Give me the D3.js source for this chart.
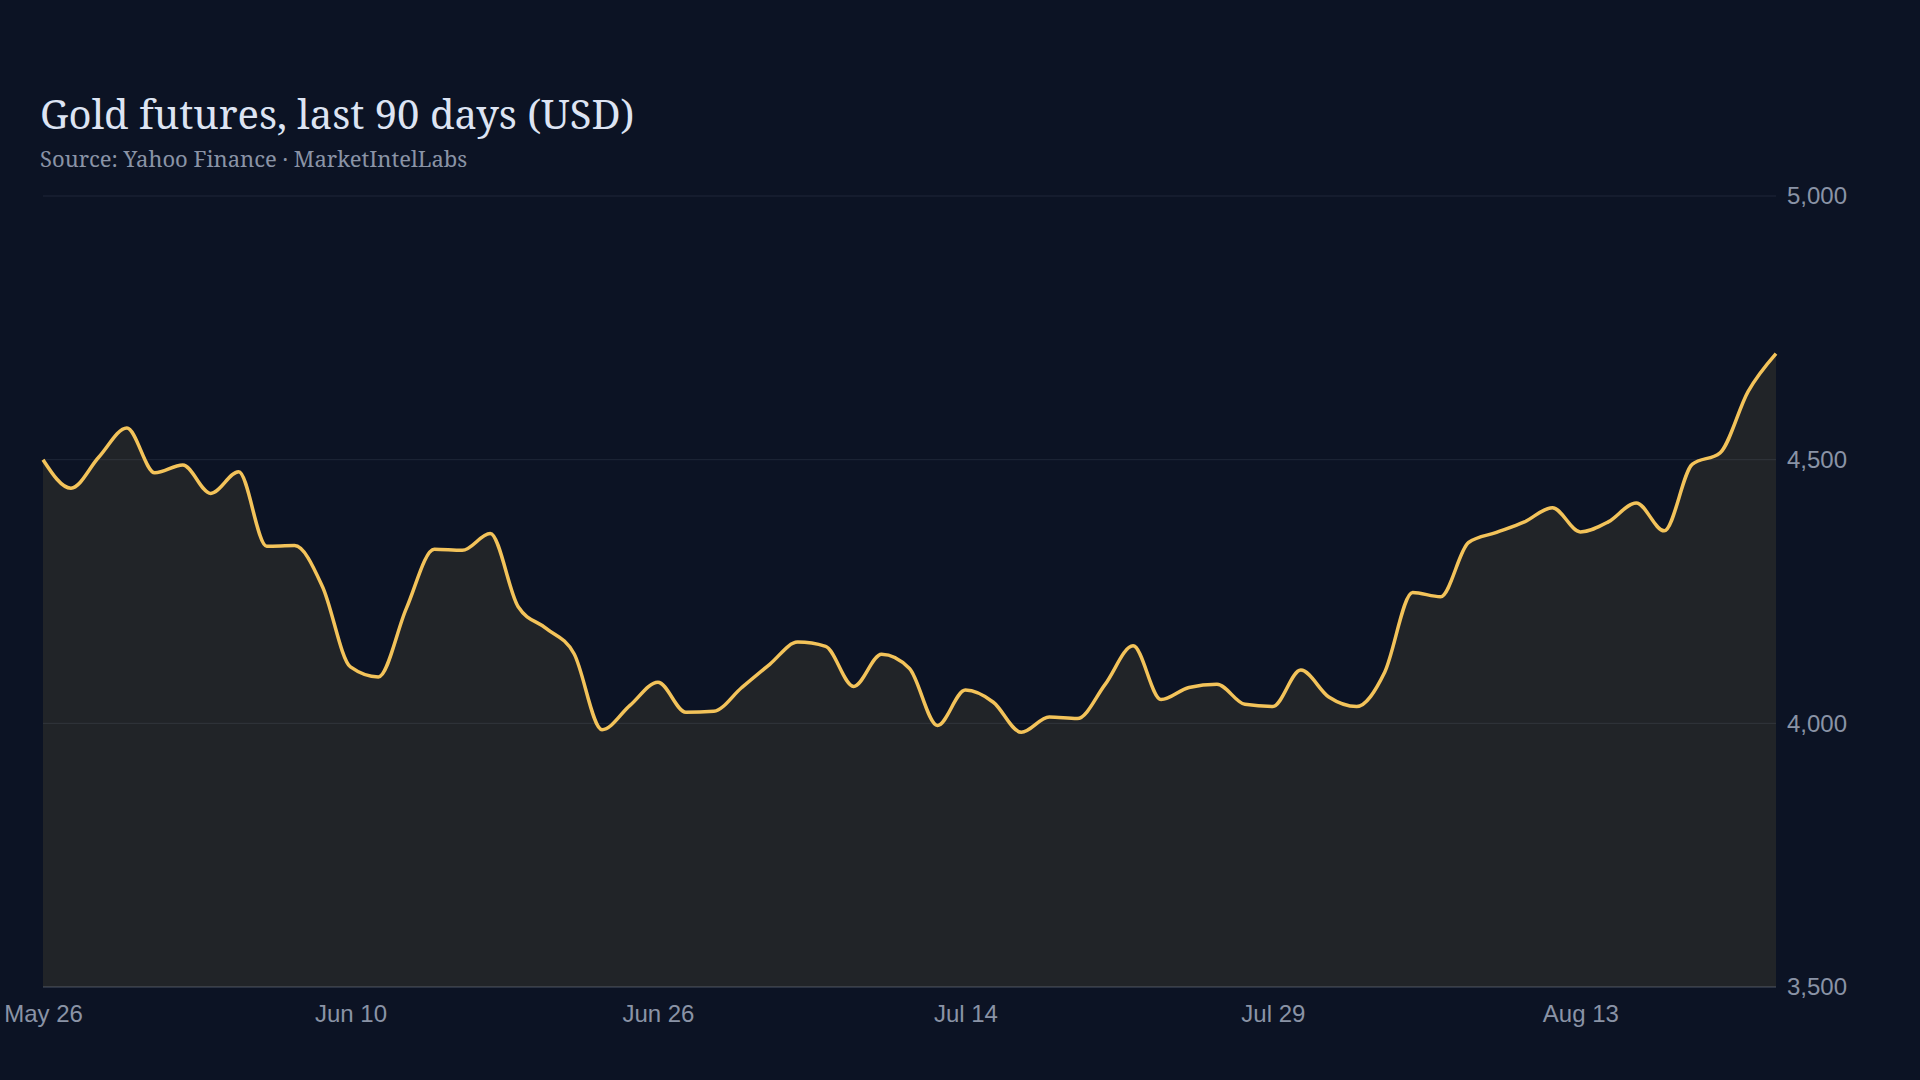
<!DOCTYPE html>
<html lang="en">
<head>
  <meta charset="UTF-8" />
  <title>Gold futures, last 90 days (USD)</title>
  <script src="https://d3js.org/d3.v7.min.js"></script>
  <style>
    html, body {
      margin: 0;
      padding: 0;
      background: #0c1324;
    }
    svg {
      display: block;
    }
    .title {
      font-family: "Noto Serif", "DejaVu Serif", serif;
      font-size: 40px;
      fill: #dde4f3;
    }
    .subtitle {
      font-family: "Noto Serif", "DejaVu Serif", serif;
      font-size: 22px;
      fill: #8a93a6;
    }
    .tick-label {
      font-family: "Liberation Sans", Arial, sans-serif;
      font-size: 24px;
      fill: #8a93a6;
    }
  </style>
</head>
<body>
  <div id="chart"></div>
  <script>
    // closing prices, one per trading day
    const prices = [
      4500, 4446, 4505, 4560, 4475, 4490, 4436, 4477, 4336, 4337,
      4259, 4107, 4088, 4218, 4330, 4328, 4360, 4221, 4180, 4132,
      3988, 4034, 4078, 4021, 4023, 4068, 4112, 4154, 4146, 4070,
      4131, 4104, 3996, 4063, 4040, 3983, 4012, 4009, 4074, 4147,
      4045, 4068, 4074, 4036, 4032, 4101, 4050, 4032, 4097, 4248,
      4240, 4343, 4362, 4382, 4409, 4363, 4382, 4418, 4365, 4491,
      4513, 4629, 4701
    ];
    const xTickIndex = [0, 11, 22, 33, 44, 55];
    const xTickLabels = ["May 26", "Jun 10", "Jun 26", "Jul 14", "Jul 29", "Aug 13"];
    const yTicks = [3500, 4000, 4500, 5000];

    const W = 1920, H = 1080;
    const margin = { top: 196, right: 144, bottom: 93, left: 43 };
    const width = W - margin.left - margin.right;
    const height = H - margin.top - margin.bottom;

    const svg = d3.select("#chart")
      .append("svg")
      .attr("width", W)
      .attr("height", H);

    svg.append("rect")
      .attr("width", W)
      .attr("height", H)
      .attr("fill", "#0c1324");

    svg.append("text")
      .attr("class", "title")
      .attr("x", 40)
      .attr("y", 129)
      .text("Gold futures, last 90 days (USD)");

    svg.append("text")
      .attr("class", "subtitle")
      .attr("x", 40)
      .attr("y", 167)
      .text("Source: Yahoo Finance · MarketIntelLabs");

    const g = svg.append("g")
      .attr("transform", `translate(${margin.left},${margin.top})`);

    const x = d3.scaleLinear()
      .domain([0, prices.length - 1])
      .range([0, width]);

    const y = d3.scaleLinear()
      .domain([3500, 5000])
      .range([height, 0]);

    const area = d3.area()
      .x((d, i) => x(i))
      .y0(y(3500))
      .y1(d => y(d))
      .curve(d3.curveMonotoneX);

    const line = d3.line()
      .x((d, i) => x(i))
      .y(d => y(d))
      .curve(d3.curveMonotoneX);

    g.append("path")
      .datum(prices)
      .attr("fill", "#212428")
      .attr("d", area);

    // grid lines sit over the fill
    g.append("g")
      .selectAll("line")
      .data(yTicks)
      .enter()
      .append("line")
      .attr("x1", 0)
      .attr("x2", width)
      .attr("y1", d => y(d))
      .attr("y2", d => y(d))
      .attr("stroke", d => d === 3500 ? "rgba(160,170,190,0.28)" : "rgba(148,163,184,0.14)")
      .attr("stroke-width", d => d === 3500 ? 1.5 : 1);

    g.append("path")
      .datum(prices)
      .attr("fill", "none")
      .attr("stroke", "#f3c35a")
      .attr("stroke-width", 3.5)
      .attr("stroke-linejoin", "round")
      .attr("d", line);

    // y axis on the right
    const yAxis = d3.axisRight(y)
      .tickValues(yTicks)
      .tickSize(0)
      .tickPadding(11)
      .tickFormat(d3.format(","));

    g.append("g")
      .attr("transform", `translate(${width},0)`)
      .call(yAxis)
      .call(a => a.select(".domain").remove())
      .selectAll("text")
      .attr("class", "tick-label")
      .attr("fill", null)
      .attr("font-size", null)
      .attr("font-family", null);

    // x axis, one label every 11 trading days
    const xAxis = d3.axisBottom(x)
      .tickValues(xTickIndex)
      .tickSize(0)
      .tickPadding(18)
      .tickFormat((d, i) => xTickLabels[i]);

    g.append("g")
      .attr("transform", `translate(0,${height})`)
      .call(xAxis)
      .call(a => a.select(".domain").remove())
      .selectAll("text")
      .attr("class", "tick-label")
      .attr("fill", null)
      .attr("font-size", null)
      .attr("font-family", null);
  </script>
</body>
</html>
